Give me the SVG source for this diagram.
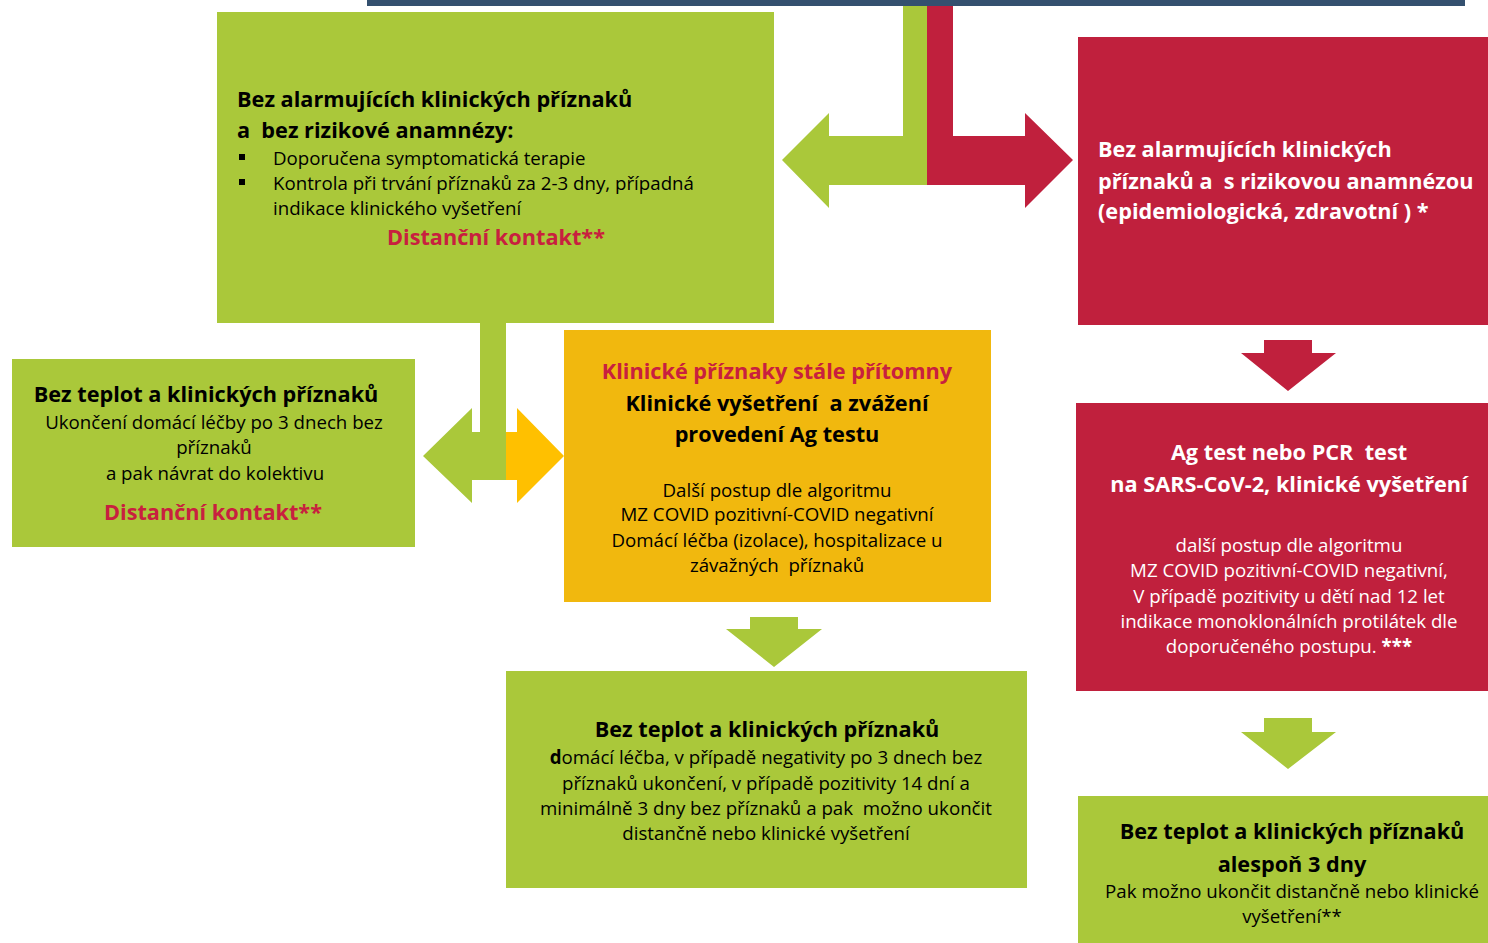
<svg xmlns="http://www.w3.org/2000/svg" width="1488" height="943" viewBox="0 0 1488 943">
<style>
.g{fill:#AAC83A}.r{fill:#C0203D}.o{fill:#F1B80E}.y{fill:#FFC000}
text{font-family:"Open Sans","Noto Sans","Liberation Sans",sans-serif;fill:#000}
.h{font-size:21.7px;font-weight:bold}
.t{font-size:18.7px}
.c{text-anchor:middle}
.w{fill:#fff}
.rt{fill:#C8203F}
</style>
<rect x="0" y="0" width="1488" height="943" fill="#fff"/>
<rect x="367" y="0" width="1098" height="6" fill="#34506F"/>

<g id="connectors">
<polygon class="g" points="903,6 927,6 927,185 829,185 829,208 782,160 829,113 829,136 903,136"/>
<polygon class="r" points="927,6 953,6 953,136 1025,136 1025,113 1073,160 1025,208 1025,185 927,185"/>
<polygon class="g" points="480,323 506,323 506,480 472,480 472,503 423,456 472,408 472,432 480,432"/>
<polygon class="y" points="506,432 517,432 517,408 564,456 517,503 517,480 506,480"/>
<polygon class="r" points="1264,340 1312,340 1312,353 1336,353 1288,391 1241,353 1264,353"/>
<polygon class="g" points="750,617 798,617 798,629 822,629 774,667 726,629 750,629"/>
<polygon class="g" points="1264,718 1312,718 1312,732 1336,732 1288,769 1241,732 1264,732"/>
</g>

<g id="node-no-alarm-no-risk">
<rect class="g" x="217" y="12" width="557" height="311"/>
<text class="h" x="237" y="107">Bez alarmujících klinických příznaků</text>
<text class="h" x="237" y="138" xml:space="preserve">a  bez rizikové anamnézy:</text>
<rect x="239" y="154" width="6" height="6" fill="#000"/>
<rect x="239" y="179" width="6" height="6" fill="#000"/>
<text class="t" x="273" y="165">Doporučena symptomatická terapie</text>
<text class="t" x="273" y="190">Kontrola při trvání příznaků za 2-3 dny, případná</text>
<text class="t" x="273" y="215">indikace klinického vyšetření</text>
<text class="h c rt" x="496" y="245">Distanční kontakt**</text>
</g>

<g id="node-risk">
<rect class="r" x="1078" y="37" width="410" height="288"/>
<text class="h w" x="1098" y="157">Bez alarmujících klinických</text>
<text class="h w" x="1098" y="189" xml:space="preserve">příznaků a  s rizikovou anamnézou</text>
<text class="h w" x="1098" y="219">(epidemiologická, zdravotní ) *</text>
</g>

<g id="node-left-no-fever">
<rect class="g" x="12" y="359" width="403" height="188"/>
<text class="h c" x="206" y="402">Bez teplot a klinických příznaků</text>
<text class="t c" x="214" y="429">Ukončení domácí léčby po 3 dnech bez</text>
<text class="t c" x="214" y="454">příznaků</text>
<text class="t c" x="215" y="480">a pak návrat do kolektivu</text>
<text class="h c rt" x="213" y="520">Distanční kontakt**</text>
</g>

<g id="node-symptoms-present">
<rect class="o" x="564" y="330" width="427" height="272"/>
<text class="h c rt" x="777" y="379">Klinické příznaky stále přítomny</text>
<text class="h c" x="777" y="411" xml:space="preserve">Klinické vyšetření  a zvážení</text>
<text class="h c" x="777" y="442">provedení Ag testu</text>
<text class="t c" x="777" y="497">Další postup dle algoritmu</text>
<text class="t c" x="777" y="521">MZ COVID pozitivní-COVID negativní</text>
<text class="t c" x="777" y="547">Domácí léčba (izolace), hospitalizace u</text>
<text class="t c" x="777" y="572" xml:space="preserve">závažných  příznaků</text>
</g>

<g id="node-ag-pcr">
<rect class="r" x="1076" y="403" width="412" height="288"/>
<text class="h c w" x="1289" y="460" xml:space="preserve">Ag test nebo PCR  test</text>
<text class="h c w" x="1289" y="492">na SARS-CoV-2, klinické vyšetření</text>
<text class="t c w" x="1289" y="552">další postup dle algoritmu</text>
<text class="t c w" x="1289" y="577">MZ COVID pozitivní-COVID negativní,</text>
<text class="t c w" x="1289" y="603">V případě pozitivity u dětí nad 12 let</text>
<text class="t c w" x="1289" y="628">indikace monoklonálních protilátek dle</text>
<text class="t c w" x="1289" y="653">doporučeného postupu. <tspan font-weight="bold">***</tspan></text>
</g>

<g id="node-bottom-center">
<rect class="g" x="506" y="671" width="521" height="217"/>
<text class="h c" x="767" y="737">Bez teplot a klinických příznaků</text>
<text class="t c" x="766" y="764"><tspan font-weight="bold">d</tspan>omácí léčba, v případě negativity po 3 dnech bez</text>
<text class="t c" x="766" y="790">příznaků ukončení, v případě pozitivity 14 dní a</text>
<text class="t c" x="766" y="815" xml:space="preserve">minimálně 3 dny bez příznaků a pak  možno ukončit</text>
<text class="t c" x="766" y="840">distančně nebo klinické vyšetření</text>
</g>

<g id="node-bottom-right">
<rect class="g" x="1078" y="796" width="410" height="147"/>
<text class="h c" x="1292" y="839">Bez teplot a klinických příznaků</text>
<text class="h c" x="1292" y="872">alespoň 3 dny</text>
<text class="t c" x="1292" y="898">Pak možno ukončit distančně nebo klinické</text>
<text class="t c" x="1292" y="923">vyšetření**</text>
</g>
</svg>
